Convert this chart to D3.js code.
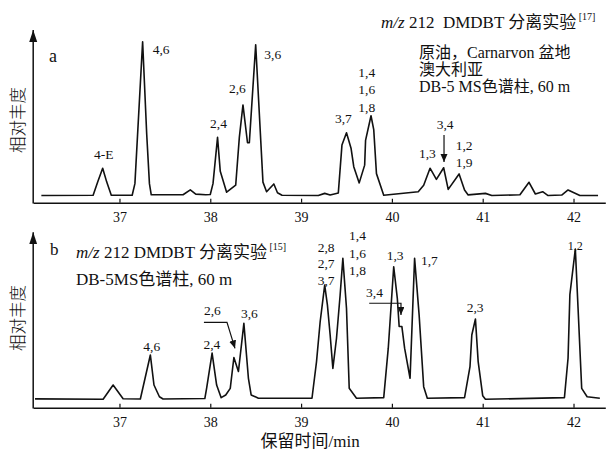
<html>
<head>
  <style>
    body { margin: 0; background: #fff; }
    text { font-family: "Liberation Serif", "Noto Sans CJK SC", serif; fill: #111; }
    .cjk { font-family: "Noto Sans CJK SC", sans-serif; }
  </style>
</head>
<body>
<script src="https://cdn.jsdelivr.net/npm/d3@7"></script>
<script>
// panel a: retention time (min) and relative abundance (max peak = 100)
var timeA = [36.14, 36.71, 36.76, 36.815, 36.86, 36.91, 37.14, 37.17, 37.255, 37.30, 37.33, 37.35,
  37.70, 37.78, 37.84, 37.95, 38.00, 38.03, 38.08, 38.11, 38.18, 38.28, 38.32, 38.36, 38.41, 38.43,
  38.50, 38.58, 38.62, 38.70, 38.74, 38.79, 39.19, 39.26, 39.32, 39.41, 39.45, 39.50, 39.55, 39.58,
  39.64, 39.70, 39.71, 39.77, 39.80, 39.83, 39.91, 40.29, 40.35, 40.42, 40.49, 40.57, 40.62, 40.74,
  40.80, 40.84, 41.03, 41.10, 41.41, 41.51, 41.58, 41.66, 41.72, 41.87, 41.94, 42.07, 42.27];
var valueA = [0.3, 0.5, 9, 18, 9, 0.5, 0.5, 8, 100, 40, 8, 0.8,
  0.8, 4, 1.2, 0.8, 1, 8, 38, 16, 2.5, 7, 38, 59, 34.5, 34.5,
  98, 9, 2.8, 7.8, 2.1, 0.5, 0.3, 1.7, 0.6, 2, 33, 41, 31, 19,
  8.5, 20, 36, 52, 43, 14.5, 0.5, 2.8, 7, 18, 10.8, 18.3, 4.3, 14.3,
  3.9, 0.7, 1.7, 0.3, 0.8, 8.9, 1.3, 2.8, 0.3, 0.6, 3.9, 0.3, 0.3];

// panel b
var timeB = [36.07, 36.82, 36.93, 37.04, 37.23, 37.34, 37.38, 37.44, 37.48, 37.94, 37.96, 38.02,
  38.07, 38.12, 38.17, 38.22, 38.26, 38.31, 38.37, 38.42, 38.45, 38.53, 39.12, 39.17, 39.21, 39.26,
  39.29, 39.32, 39.35, 39.39, 39.43, 39.46, 39.50, 39.53, 39.61, 39.91, 39.96, 40.02, 40.06, 40.08,
  40.11, 40.14, 40.20, 40.25, 40.30, 40.35, 40.39, 40.80, 40.86, 40.88, 40.92, 40.95, 41.00, 41.03,
  41.90, 41.94, 41.96, 42.02, 42.05, 42.09, 42.15, 42.29];
var valueB = [0.3, 0, 9.5, 0.4, 0.2, 29.5, 9.5, 1.7, 0.2, 0.5, 7.5, 30.7,
  9.5, 1.1, 2.9, 7.3, 27.8, 18.5, 50.5, 14, 2.9, 0.7, 0.7, 25.1, 51.6, 76,
  62.7, 42.8, 20.6, 40.6, 69.4, 93.8, 60.6, 7.3, 0.7, 1.1, 34, 88.2, 67, 48.4,
  48.4, 34, 14, 93.8, 56, 8.4, 0.7, 1.1, 21.7, 42.8, 53.4, 25.1, 2.4, 0,
  1.1, 27.5, 69.7, 100, 60.6, 7.3, 1.7, 0.7];

var tickValues = [37, 38, 39, 40, 41, 42];

// peak labels: text, time at left edge, abundance at baseline
var labelsA = [
  ["4-E", 36.72, 23.8], ["4,6", 37.366, 92.2], ["2,4", 37.997, 43.9], ["2,6", 38.206, 66.6],
  ["3,6", 38.595, 88.6], ["3,7", 39.373, 47.1], ["1,4", 39.63, 77.3], ["1,6", 39.63, 66.1],
  ["1,8", 39.63, 54.6], ["1,3", 40.298, 24.4], ["3,4", 40.493, 43.2], ["1,2", 40.703, 29.8],
  ["1,9", 40.703, 18.6]
];
var labelsB = [
  ["4,6", 37.262, 32.1], ["2,4", 37.925, 33.5], ["2,6", 37.93, 56.1], ["3,6", 38.338, 53.9],
  ["2,8", 39.183, 98.2], ["2,7", 39.183, 87.2], ["3,7", 39.183, 76.0], ["1,4", 39.528, 106],
  ["1,6", 39.528, 94.2], ["1,8", 39.528, 82.7], ["1,3", 39.943, 92.7], ["3,4", 39.715, 68.3],
  ["1,7", 40.32, 89.4], ["2,3", 40.824, 57.9]
];

var width = 610, height = 450;

var svg = d3.select('body').append('svg')
  .attr('width', width)
  .attr('height', height);

var defs = svg.append('defs');
defs.append('marker')
  .attr('id', 'head')
  .attr('markerUnits', 'userSpaceOnUse')
  .attr('markerWidth', 10).attr('markerHeight', 8)
  .attr('refX', 8).attr('refY', 3.5)
  .attr('orient', 'auto')
  .append('path').attr('d', 'M0,0L8,3.5L0,7Z').attr('fill', '#111');
defs.append('marker')
  .attr('id', 'axhead')
  .attr('markerUnits', 'userSpaceOnUse')
  .attr('markerWidth', 14).attr('markerHeight', 10)
  .attr('refX', 12).attr('refY', 4)
  .attr('orient', 'auto')
  .append('path').attr('d', 'M0,0L12,4L0,8Z').attr('fill', '#111');

// shared time scale
var x = d3.scaleLinear().domain([36.05, 42.35]).range([33.2, 605.3]);

function panel(times, values, labels, yBase, yTop, axisY, arrowTip, labelMid) {
  var y = d3.scaleLinear().domain([0, 100]).range([yBase, yTop]);
  var g = svg.append('g');

  // x axis, ticks pointing up
  var ax = g.append('g')
    .attr('transform', 'translate(0,' + axisY + ')')
    .call(d3.axisBottom(x).tickValues(tickValues).tickFormat(d3.format('d'))
      .tickSizeInner(-4).tickSizeOuter(0).tickPadding(9));
  ax.select('.domain').attr('stroke', '#111').attr('stroke-width', 1.5);
  ax.selectAll('.tick line').attr('stroke', '#111').attr('stroke-width', 1.2);
  ax.selectAll('.tick text')
    .style('font-family', '"Liberation Serif", serif')
    .style('font-size', '14px').attr('fill', '#111');

  // y axis with arrow
  g.append('line')
    .attr('x1', x(36.05)).attr('x2', x(36.05))
    .attr('y1', axisY + 0.7).attr('y2', arrowTip)
    .attr('stroke', '#111').attr('stroke-width', 1.5)
    .attr('marker-end', 'url(#axhead)');

  var pts = times.map(function(t, i) { return [t, values[i]]; });
  g.append('path')
    .datum(pts)
    .attr('d', d3.line().x(function(d) { return x(d[0]); }).y(function(d) { return y(d[1]); }))
    .attr('fill', 'none')
    .attr('stroke', '#111')
    .attr('stroke-width', 1.6)
    .attr('stroke-linejoin', 'round');

  g.selectAll('.pk').data(labels).enter().append('text')
    .attr('class', 'pk')
    .attr('x', function(d) { return x(d[1]); })
    .attr('y', function(d) { return y(d[2]); })
    .style('font-size', '13.5px')
    .text(function(d) { return d[0]; });

  // y label
  g.append('text')
    .attr('class', 'cjk')
    .attr('transform', 'translate(23.5,' + labelMid + ') rotate(-90)')
    .attr('text-anchor', 'middle')
    .style('font-size', '16.5px')
    .style('font-weight', 300)
    .attr('fill', '#333')
    .text('相对丰度');

  return y;
}

var yA = panel(timeA, valueA, labelsA, 196, 41.7, 202.7, 30, 120);
var yB = panel(timeB, valueB, labelsB, 399.3, 249, 407.7, 232.3, 318);

// panel a annotations
svg.append('line')
  .attr('x1', x(40.574)).attr('x2', x(40.574))
  .attr('y1', yA(39.5)).attr('y2', yA(22))
  .attr('stroke', '#111').attr('stroke-width', 1.2)
  .attr('marker-end', 'url(#head)');

svg.append('text').attr('x', 49).attr('y', 61.7).style('font-size', '18px').text('a');

var tA = svg.append('text').attr('x', 381).attr('y', 28.3)
  .style('font-size', '17px').style('white-space', 'pre');
tA.append('tspan').style('font-style', 'italic').text('m/z');
tA.append('tspan').text(' 212  DMDBT 分离实验');
tA.append('tspan').attr('dy', -8).style('font-size', '10px').text(' [17]');

var noteA = ['原油，Carnarvon 盆地', '澳大利亚', 'DB-5 MS色谱柱, 60 m'];
svg.selectAll('.noteA').data(noteA).enter().append('text')
  .attr('class', 'noteA')
  .attr('x', 419)
  .attr('y', function(d, i) { return 58.3 + i * 16.7; })
  .style('font-size', '16px')
  .text(function(d) { return d; });

// panel b annotations
svg.append('text').attr('x', 50).attr('y', 255).style('font-size', '17px').text('b');

var tB = svg.append('text').attr('x', 76).attr('y', 258.3)
  .style('font-size', '17px').style('white-space', 'pre');
tB.append('tspan').style('font-style', 'italic').text('m/z');
tB.append('tspan').text(' 212 DMDBT 分离实验');
tB.append('tspan').attr('dy', -8).style('font-size', '10px').text(' [15]');

svg.append('text').attr('x', 76).attr('y', 285)
  .style('font-size', '17px').text('DB-5MS色谱柱, 60 m');

svg.append('text')
  .attr('x', x(42.02)).attr('y', yB(99.3))
  .attr('text-anchor', 'middle')
  .style('font-size', '12px').text('1,2');

svg.append('path')
  .attr('d', d3.line()([[x(37.93), yB(51.2)], [x(38.184), yB(51.2)], [x(38.272), yB(33.9)]]))
  .attr('fill', 'none').attr('stroke', '#111').attr('stroke-width', 1.2)
  .attr('marker-end', 'url(#head)');

svg.append('path')
  .attr('d', d3.line()([[x(39.75), yB(63.9)], [x(40.10), yB(63.9)], [x(40.10), yB(56.1)]]))
  .attr('fill', 'none').attr('stroke', '#111').attr('stroke-width', 1.2)
  .attr('marker-end', 'url(#head)');

svg.append('text')
  .attr('x', x(39.1)).attr('y', 446.7)
  .attr('text-anchor', 'middle')
  .style('font-size', '17px')
  .text('保留时间/min');
</script>
</body>
</html>
